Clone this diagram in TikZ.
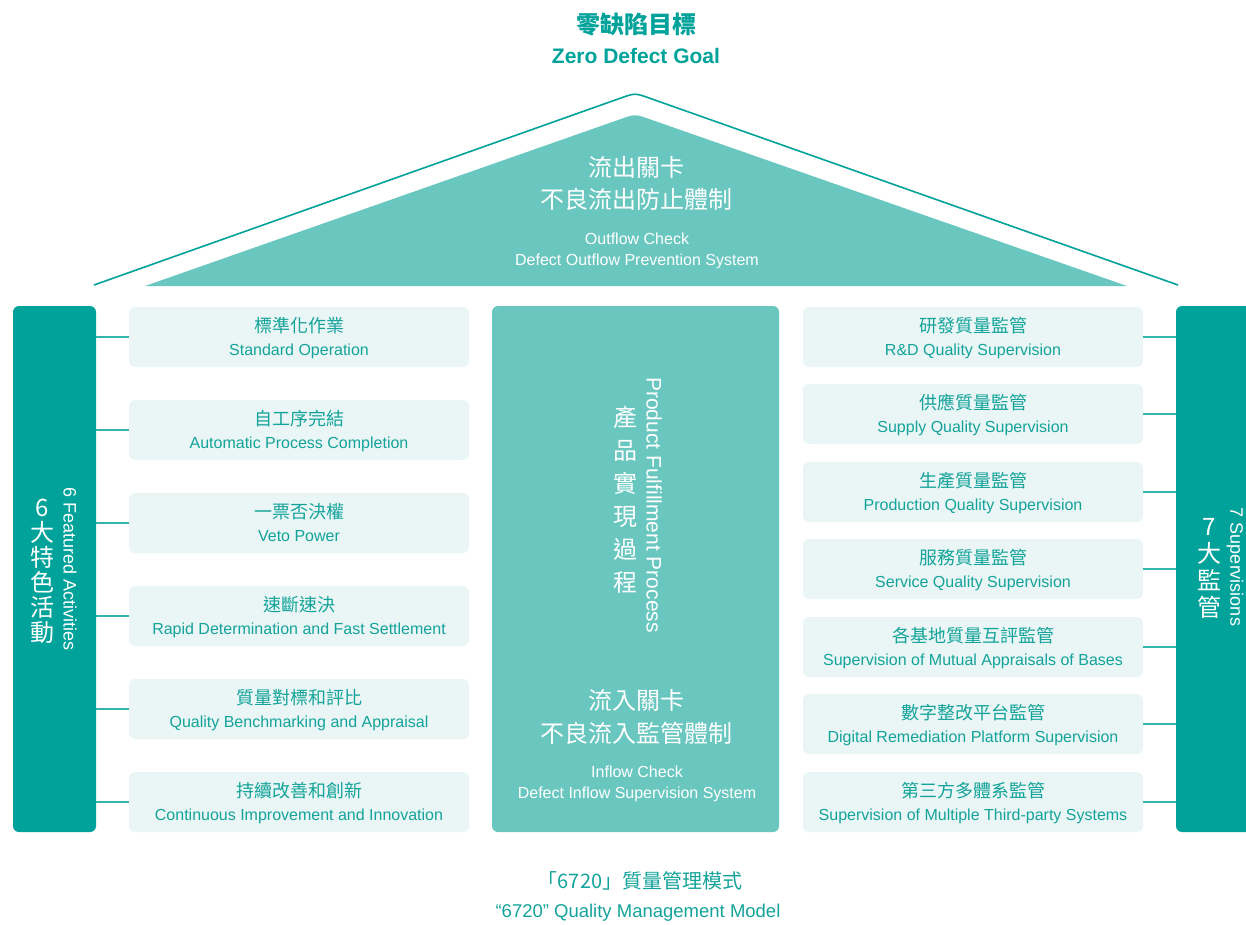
\documentclass[tikz,border=0pt]{standalone}
\usepackage{fontspec}
\setmainfont{Liberation Sans}
\newfontfamily\cjk{Noto Sans CJK TC}
\usetikzlibrary{positioning}

\definecolor{tealdark}{HTML}{00A29A}
\definecolor{tealmid}{HTML}{69C7C0}
\definecolor{teallight}{HTML}{E9F6F5}
\definecolor{tealtext}{HTML}{14A39A}

\newcommand{\zhline}[1]{{\cjk\fontsize{18}{23}\selectfont #1}}

\tikzset{
  pillar/.style={fill=tealdark, rounded corners=6pt, minimum height=526pt, inner sep=0pt},
  itembox/.style={fill=teallight, rounded corners=6pt, minimum width=340pt, minimum height=60pt,
    inner sep=0pt, align=center, text=tealtext, text height=37.4pt, text depth=0pt,
    font=\fontsize{16}{23}\selectfont},
  link/.style={draw=tealdark!80, line width=1.3pt},
  whitetxt/.style={text=white, align=center, inner sep=0pt},
  sidetext/.style={rotate=-90, text=white, inner sep=0pt},
}

\begin{document}
\begin{tikzpicture}[x=1pt, y=-1pt]
	\useasboundingbox (0,0) rectangle (1246,924);
	\clip (0,0) rectangle (1246,924);

	% Draw the roof
	\draw[tealdark, line width=1.6pt] (94,285) -- (620.9,98) .. controls (635,93) .. (649.1,98) -- (1178,285);
	\fill[tealmid] (145,286) -- (620.9,119) .. controls (635,114) .. (649.2,119) -- (1127,286) -- cycle;

	\node[whitetxt, font=\cjk\fontsize{24}{32}\selectfont] (outzh) at (636,183) {流出關卡\\不良流出防止體制};
	\node[whitetxt, font=\fontsize{16}{21}\selectfont] (outen) at (637,251) {Outflow Check\\Defect Outflow Prevention System};

	% Draw the pillars
	\node[pillar, minimum width=83pt] (act) at (54.5,569) {};
	\node[pillar, minimum width=80pt] (sup) at (1216,569) {};
	\node[fill=tealmid, rounded corners=6pt, minimum width=287pt, minimum height=526pt, inner sep=0pt] (proc) at (635.5,569) {};

	\node[whitetxt, font=\cjk\fontsize{24}{25}\selectfont] (actzh) at (42,571) {6\\大\\特\\色\\活\\動};
	\node[sidetext, font=\fontsize{18}{18}\selectfont] (acten) at (70,569) {6 Featured Activities};

	\node[whitetxt, font=\cjk\fontsize{24}{27}\selectfont] (supzh) at (1209,568) {7\\大\\監\\管};
	\node[sidetext, font=\fontsize{18}{18}\selectfont] (supen) at (1235,567) {7 Supervisions};

	\node[whitetxt, font=\cjk\fontsize{24}{33}\selectfont] (proczh) at (625,500) {產\\品\\實\\現\\過\\程};
	\node[sidetext, font=\fontsize{21}{21}\selectfont] (procen) at (654,505) {Product Fulfillment Process};

	\node[whitetxt, font=\cjk\fontsize{24}{33}\selectfont] (inzh) at (636,717) {流入關卡\\不良流入監管體制};
	\node[whitetxt, font=\fontsize{16}{21}\selectfont] (inen) at (637,784) {Inflow Check\\Defect Inflow Supervision System};

	% Featured activities
	\node[itembox] (a1) at (299,337) {\zhline{標準化作業}\\Standard Operation};
	\node[itembox] (a2) at (299,430) {\zhline{自工序完結}\\Automatic Process Completion};
	\node[itembox] (a3) at (299,523) {\zhline{一票否決權}\\Veto Power};
	\node[itembox] (a4) at (299,616) {\zhline{速斷速決}\\Rapid Determination and Fast Settlement};
	\node[itembox] (a5) at (299,709) {\zhline{質量對標和評比}\\Quality Benchmarking and Appraisal};
	\node[itembox] (a6) at (299,802) {\zhline{持續改善和創新}\\Continuous Improvement and Innovation};

	\draw[link] (act.east |- a1) -- (a1.west);
	\draw[link] (act.east |- a2) -- (a2.west);
	\draw[link] (act.east |- a3) -- (a3.west);
	\draw[link] (act.east |- a4) -- (a4.west);
	\draw[link] (act.east |- a5) -- (a5.west);
	\draw[link] (act.east |- a6) -- (a6.west);

	% Supervisions
	\node[itembox] (s1) at (973,337) {\zhline{研發質量監管}\\R\&D Quality Supervision};
	\node[itembox] (s2) at (973,414) {\zhline{供應質量監管}\\Supply Quality Supervision};
	\node[itembox] (s3) at (973,492) {\zhline{生產質量監管}\\Production Quality Supervision};
	\node[itembox] (s4) at (973,569) {\zhline{服務質量監管}\\Service Quality Supervision};
	\node[itembox] (s5) at (973,647) {\zhline{各基地質量互評監管}\\Supervision of Mutual Appraisals of Bases};
	\node[itembox] (s6) at (973,724) {\zhline{數字整改平台監管}\\Digital Remediation Platform Supervision};
	\node[itembox] (s7) at (973,802) {\zhline{第三方多體系監管}\\Supervision of Multiple Third-party Systems};

	\draw[link] (s1.east) -- (sup.west |- s1);
	\draw[link] (s2.east) -- (sup.west |- s2);
	\draw[link] (s3.east) -- (sup.west |- s3);
	\draw[link] (s4.east) -- (sup.west |- s4);
	\draw[link] (s5.east) -- (sup.west |- s5);
	\draw[link] (s6.east) -- (sup.west |- s6);
	\draw[link] (s7.east) -- (sup.west |- s7);

	% Titles
	\node[text=tealdark, font=\cjk\bfseries\fontsize{24}{24}\selectfont] (goalzh) at (636,24) {零缺陷目標};
	\node[text=tealdark, font=\bfseries\fontsize{21}{21}\selectfont] (goalen) at (636,56) {Zero Defect Goal};
	\node[text=tealtext, font=\cjk\fontsize{20}{20}\selectfont] (modelzh) at (640,881) {「6720」質量管理模式};
	\node[text=tealtext, font=\fontsize{18.5}{18.5}\selectfont] (modelen) at (638,913) {“6720” Quality Management Model};
\end{tikzpicture}
\end{document}
